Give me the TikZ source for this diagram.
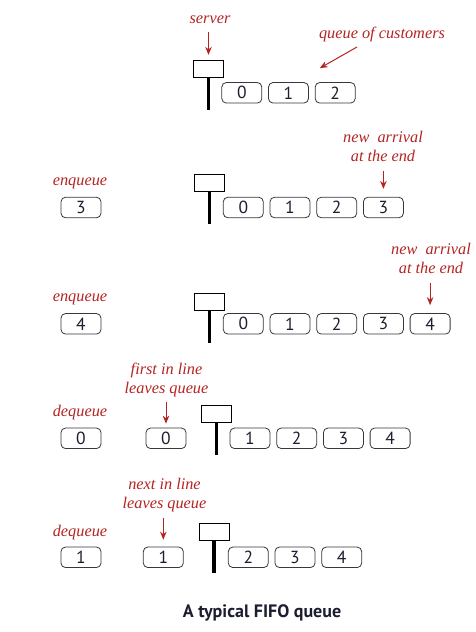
\documentclass[tikz,border=0pt]{standalone}
\usepackage{fontspec}
\setmainfont{Liberation Serif}
\setsansfont{PT Sans}
\usepackage{tikz}
\usetikzlibrary{arrows.meta}
\usetikzlibrary{positioning,calc}
\definecolor{fifored}{RGB}{180,36,34}
\definecolor{boxgray}{RGB}{55,55,60}
\definecolor{digitink}{RGB}{28,30,48}

\newcommand{\lblfont}{\fontsize{16.3}{18.3}\selectfont\itshape}
\newcommand{\digfont}{\fontsize{17.5}{18}\sffamily}

\tikzset{
  cust/.style={draw=boxgray,line width=0.8pt,rounded corners=4.5pt,
    minimum width=40pt,minimum height=20.5pt,inner sep=0pt,
    font=\digfont,text=digitink},
  srv/.style={draw,line width=0.8pt,minimum width=30pt,
    minimum height=16.5pt,inner sep=0pt},
  pole/.style={line width=3.2pt},
  lbl/.style={text=fifored,font=\lblfont,align=center,inner sep=0pt},
  arr/.style={fifored,line width=1pt,-{Stealth[length=8pt,width=6.5pt]}},
}

\begin{document}
\begin{tikzpicture}[x=1pt,y=-1pt]
  \useasboundingbox (0,0) rectangle (475,632);
  % row 1: the queue as it stands
  \node[srv] (s1) at (208.5,69) {};
  \draw[pole] (s1.south) -- ++(0,32.5);
  \foreach \d [count=\i from 0] in {0,1,2}
    \node[cust] (q1\d) at (241.8+46.7*\i,92.8) {\d};
  \node[lbl,anchor=base] (lsrv) at (210,23) {server};
  \draw[arr] ([yshift=-9pt]lsrv.south -| s1.north) -- ([yshift=5.5pt]s1.north);
  \node[lbl,anchor=base] (lcust) at (382,38) {queue of customers};
  \coordinate (ctail) at (357,47);
  \draw[arr] (ctail) -- ([xshift=5pt,yshift=14pt]q12.north west);

  % row 2: enqueue 3
  \node[lbl,anchor=base] (lenq1) at (80,185) {enqueue};
  \node[cust] (in3) at (81,207.5) {3};
  \node[srv] (s2) at (209.5,183) {};
  \draw[pole] (s2.south) -- ++(0,32.5);
  \foreach \d [count=\i from 0] in {0,1,2,3}
    \node[cust] (q2\d) at (243.3+46.7*\i,207.5) {\d};
  \node[lbl,anchor=base] (lnew1) at (383,161) {new~~arrival\\at the end};
  \draw[arr] ([yshift=-10pt]lnew1.south -| q23.north) -- ([yshift=8pt]q23.north);

  % row 3: enqueue 4
  \node[lbl,anchor=base] (lenq2) at (80,301.5) {enqueue};
  \node[cust] (in4) at (81,323.8) {4};
  \node[srv] (s3) at (209.5,302) {};
  \draw[pole] (s3.south) -- ++(0,32.5);
  \foreach \d [count=\i from 0] in {0,1,2,3,4}
    \node[cust] (q3\d) at (243.3+46.7*\i,323.8) {\d};
  \node[lbl,anchor=base] (lnew2) at (431,273) {new~~arrival\\at the end};
  \draw[arr] ([yshift=-10pt]lnew2.south -| q34.north) -- ([yshift=8pt]q34.north);

  % row 4: dequeue 0
  \node[lbl,anchor=base] (ldeq1) at (80,416.5) {dequeue};
  \node[cust] (out0) at (81,438.3) {0};
  \node[cust] (gone0) at (166,438.3) {0};
  \node[srv] (s4) at (216.7,414) {};
  \draw[pole] (s4.south) -- ++(0,32.5);
  \foreach \d [count=\i from 0] in {1,2,3,4}
    \node[cust] (q4\d) at (250+46.7*\i,438.3) {\d};
  \node[lbl,anchor=base] (lfirst) at (166.5,393) {first in line\\leaves queue};
  \draw[arr] ([yshift=-5pt]lfirst.south -| gone0.north) -- ([yshift=4pt]gone0.north);

  % row 5: dequeue 1
  \node[lbl,anchor=base] (ldeq2) at (80,536.5) {dequeue};
  \node[cust] (out1) at (81,557.3) {1};
  \node[cust] (gone1) at (163.3,557.3) {1};
  \node[srv] (s5) at (214,532) {};
  \draw[pole] (s5.south) -- ++(0,32.5);
  \foreach \d [count=\i from 0] in {2,3,4}
    \node[cust] (q5\d) at (248.3+46.7*\i,557.3) {\d};
  \node[lbl,anchor=base] (lnext) at (164.5,508) {next in line\\leaves queue};
  \draw[arr] ([yshift=-6pt]lnext.south -| gone1.north) -- ([yshift=7pt]gone1.north);

  % caption
  \node[font=\fontsize{18}{20}\sffamily\bfseries,text=digitink] (cap) at (262,613)
    {A typical FIFO queue};
\end{tikzpicture}
\end{document}
